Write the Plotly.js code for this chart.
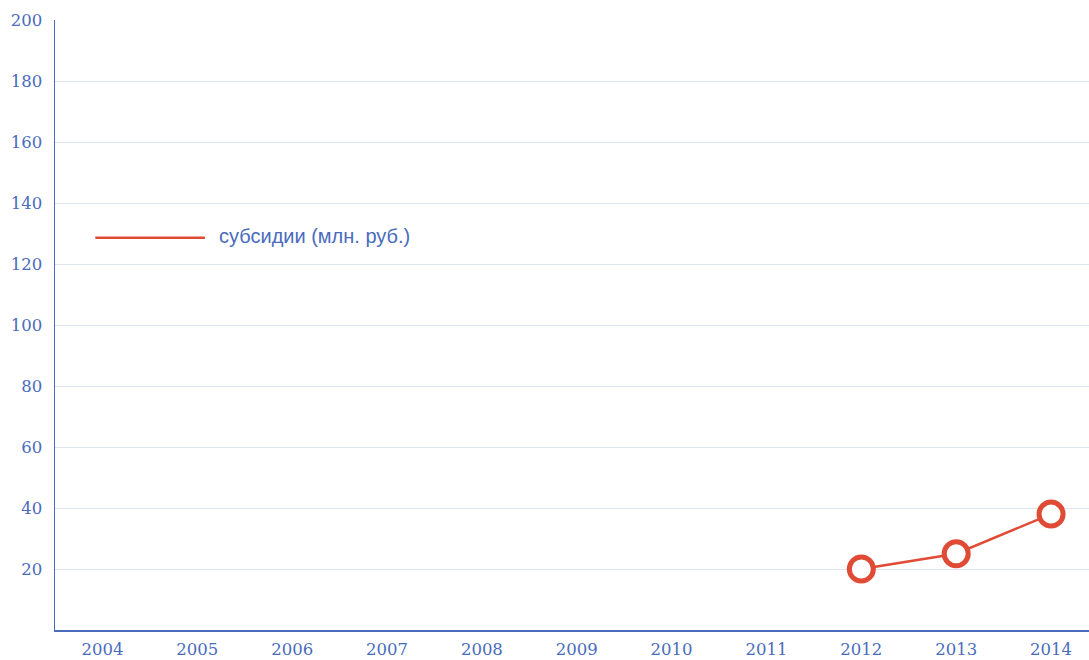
<!DOCTYPE html>
<html>
<head>
<meta charset="utf-8">
<script src="https://cdn.plot.ly/plotly-3.0.1.min.js"></script>
<style>html,body{margin:0;padding:0;background:#fff;}#chart{width:1089px;height:660px;}</style>
</head>
<body>
<div id="chart"></div>
<script>
const years = ["2004","2005","2006","2007","2008","2009","2010","2011","2012","2013","2014"];
const subsidies = [null,null,null,null,null,null,null,null,20,25,38];
const seriesName = "субсидии (млн. руб.)";
const yTicks = [20,40,60,80,100,120,140,160,180,200];

const axisColor = "#4a6cbd";
const red = "#e04b35";

const trace = {
  x: years, y: subsidies, type: "scatter", mode: "lines+markers",
  name: seriesName, connectgaps: false, showlegend: false,
  line: {color: red, width: 2.5},
  marker: {size: 24, color: "#ffffff", line: {color: red, width: 5}},
  cliponaxis: false
};

const tickFont = {family: "DejaVu Serif, Liberation Serif, serif", size: 16.5, color: axisColor};

const layout = {
  width: 1089, height: 660,
  margin: {l: 55, r: 0, t: 20, b: 30},
  paper_bgcolor: "#ffffff", plot_bgcolor: "#ffffff",
  showlegend: false,
  xaxis: {
    type: "category", categoryarray: years, range: [-0.5, 10.4],
    showgrid: false, zeroline: false,
    showline: true, linecolor: axisColor, linewidth: 2,
    ticks: "", ticklabelstandoff: 3,
    tickfont: tickFont
  },
  yaxis: {
    range: [0, 200], tickvals: yTicks, ticktext: yTicks.map(String),
    showgrid: true, gridcolor: "#dfe4f1", gridwidth: 1, zeroline: false,
    showline: true, linecolor: axisColor, linewidth: 1.5,
    ticks: "", ticklabelstandoff: 8,
    tickfont: tickFont
  },
  shapes: [{
    type: "line", xref: "paper", yref: "paper",
    x0: 0.039, x1: 0.145, y0: 0.643, y1: 0.643,
    line: {color: red, width: 2.5}
  }],
  annotations: [{
    xref: "paper", yref: "paper", x: 0.157, y: 0.646,
    xanchor: "left", yanchor: "middle", showarrow: false,
    text: seriesName,
    font: {family: "Liberation Sans, Arial, sans-serif", size: 20, color: axisColor}
  }]
};

Plotly.newPlot("chart", [trace], layout, {displayModeBar: false, staticPlot: true});
</script>
</body>
</html>
